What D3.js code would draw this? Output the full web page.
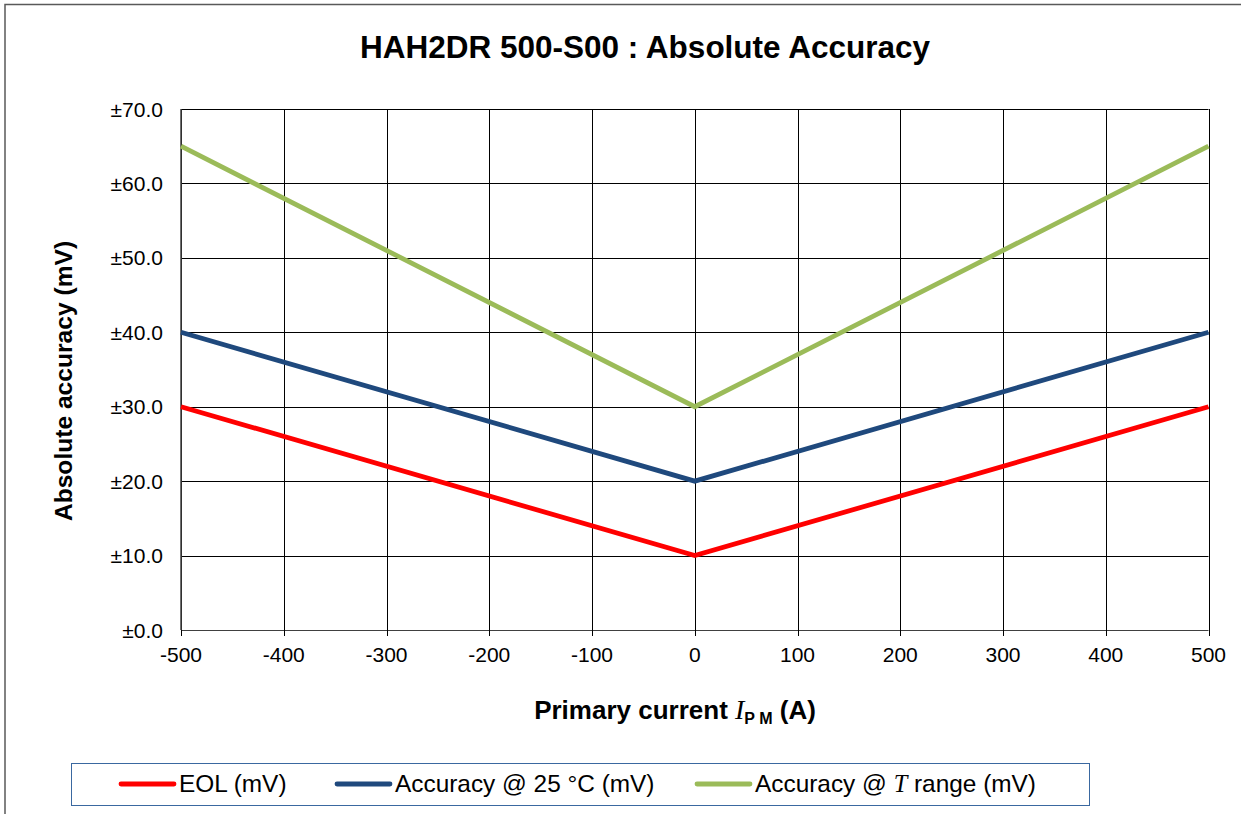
<!DOCTYPE html>
<html>
<head>
<meta charset="utf-8">
<script src="https://cdn.jsdelivr.net/npm/d3@7"></script>
<style>
  body { margin: 0; background: #fff; }
  svg { font-family: "Liberation Sans", Arial, sans-serif; }
</style>
</head>
<body>
<svg width="1241" height="814"></svg>
<script>
// data
const currents = [-500, 0, 500]
const eol = [30, 10, 30]
const acc25 = [40, 20, 40]
const accT = [65, 30, 65]
const xTicks = [-500, -400, -300, -200, -100, 0, 100, 200, 300, 400, 500]
const yTicks = [0, 10, 20, 30, 40, 50, 60, 70]

const series = [
  { name: "EOL (mV)", values: eol, color: "#ff0000" },
  { name: "Accuracy @ 25 °C (mV)", values: acc25, color: "#1f497d" },
  { name: "Accuracy @ T range (mV)", values: accT, color: "#9bbb59" },
]

const svg = d3.select("svg")
const margin = { left: 181, right: 1208.5, top: 109, bottom: 630 }

const x = d3.scaleLinear().domain([-500, 500]).range([margin.left, margin.right])
const y = d3.scaleLinear().domain([0, 70]).range([margin.bottom, margin.top])

// outer frame
svg.append("rect")
  .attr("x", 5).attr("y", 4.5)
  .attr("width", 1250).attr("height", 820)
  .attr("fill", "none").attr("stroke", "#595959").attr("stroke-width", 1.5)

// title
svg.append("text")
  .attr("x", 645).attr("y", 58)
  .attr("text-anchor", "middle")
  .attr("font-size", 31.5).attr("font-weight", "bold")
  .text("HAH2DR 500-S00 : Absolute Accuracy")

// grid
const grid = svg.append("g")
grid.selectAll("line.h").data(yTicks).join("line")
  .attr("class", "h")
  .attr("x1", margin.left).attr("x2", margin.right)
  .attr("y1", d => Math.round(y(d)) + 0.5).attr("y2", d => Math.round(y(d)) + 0.5)
  .attr("stroke", d => d === 0 ? "#404040" : "#000").attr("stroke-width", 1)
grid.selectAll("line.v").data(xTicks).join("line")
  .attr("class", "v")
  .attr("x1", d => Math.round(x(d)) + 0.5).attr("x2", d => Math.round(x(d)) + 0.5)
  .attr("y1", margin.top).attr("y2", margin.bottom + 6)
  .attr("stroke", "#000").attr("stroke-width", 1)
svg.append("line")
  .attr("x1", margin.left).attr("x2", margin.left)
  .attr("y1", margin.top).attr("y2", margin.bottom)
  .attr("stroke", "#404040").attr("stroke-width", 1.5)

// tick labels
const fmt = d3.format(".1f")
svg.append("g").selectAll("text").data(yTicks).join("text")
  .attr("x", 163).attr("y", d => y(d) + 7.5)
  .attr("text-anchor", "end").attr("font-size", 21)
  .text(d => "±" + fmt(d))
svg.append("g").selectAll("text").data(xTicks).join("text")
  .attr("x", d => x(d)).attr("y", margin.bottom + 32)
  .attr("text-anchor", "middle").attr("font-size", 21)
  .text(d => d)

// axis titles
svg.append("text")
  .attr("transform", "translate(72,381) rotate(-90)")
  .attr("text-anchor", "middle")
  .attr("font-size", 24.6).attr("font-weight", "bold")
  .text("Absolute accuracy (mV)")

const xt = svg.append("text")
  .attr("x", 675).attr("y", 719)
  .attr("text-anchor", "middle")
  .attr("font-size", 26).attr("font-weight", "bold")
xt.append("tspan").text("Primary current ")
xt.append("tspan").attr("font-family", "'Liberation Serif', 'Times New Roman', serif")
  .attr("font-style", "italic").attr("font-weight", "normal").attr("font-size", 28).text("I")
xt.append("tspan").attr("font-size", 16).attr("dy", 5).text("P M")
xt.append("tspan").attr("dy", -5).text(" (A)")

// lines
const line = d3.line()
  .x((d, i) => x(currents[i]))
  .y(d => y(d))
svg.append("g").selectAll("path").data(series).join("path")
  .attr("d", d => line(d.values))
  .attr("fill", "none")
  .attr("stroke", d => d.color)
  .attr("stroke-width", 4.8)
  .attr("stroke-linejoin", "miter")

// legend
svg.append("rect")
  .attr("x", 71.5).attr("y", 763.5)
  .attr("width", 1018).attr("height", 42)
  .attr("fill", "#fff").attr("stroke", "#3a68a0").attr("stroke-width", 1)
const legendX = [121, 337, 697]
const lg = svg.append("g").selectAll("g").data(series).join("g")
  .attr("transform", (d, i) => `translate(${legendX[i]},784)`)
lg.append("line")
  .attr("x1", 0).attr("x2", 53)
  .attr("stroke", d => d.color).attr("stroke-width", 4.8)
  .attr("stroke-linecap", "round")
const lt = lg.append("text")
  .attr("x", 58).attr("y", 8)
  .attr("font-size", 24.4)
lt.each(function(d) {
  const t = d3.select(this)
  if (d.name.includes(" T ")) {
    const parts = d.name.split(" T ")
    t.append("tspan").text(parts[0] + " ")
    t.append("tspan").attr("font-family", "'Liberation Serif', 'Times New Roman', serif")
      .attr("font-style", "italic").text("T")
    t.append("tspan").text(" " + parts[1])
  } else {
    t.text(d.name)
  }
})
</script>
</body>
</html>
